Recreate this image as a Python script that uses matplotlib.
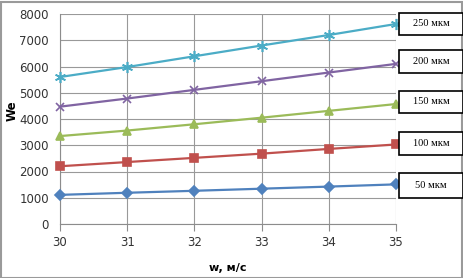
import matplotlib
matplotlib.use("Agg")
import matplotlib.pyplot as plt
from matplotlib.patches import Rectangle

w = [30, 31, 32, 33, 34, 35]
we_50 = [1110, 1190, 1265, 1345, 1425, 1510]
we_100 = [2200, 2360, 2520, 2680, 2860, 3030]
we_150 = [3350, 3560, 3800, 4050, 4310, 4570]
we_200 = [4470, 4780, 5110, 5440, 5770, 6100]
we_250 = [5600, 5980, 6390, 6800, 7200, 7620]
labels = ["50 мкм", "100 мкм", "150 мкм", "200 мкм", "250 мкм"]
yticks = [0, 1000, 2000, 3000, 4000, 5000, 6000, 7000, 8000]

W, H = 464, 278
fig = plt.figure(figsize=(W / 100, H / 100), dpi=100)
ax = fig.add_axes([60 / W, 1 - 224 / H, (396 - 60) / W, (224 - 14) / H])

series = [
    (we_50, "#4F81BD", "D", 5),
    (we_100, "#C0504D", "s", 6),
    (we_150, "#9BBB59", "^", 6),
    (we_200, "#8064A2", "x", 6),
    (we_250, "#4BACC6", (6, 2, 0), 8),
]
for vals, c, m, ms in series:
    ax.plot(w, vals, color=c, lw=1.6, marker=m, ms=ms, mec=c, mfc=c, mew=1.2,
            clip_on=False, zorder=3)

ax.set_xlim(30, 35)
ax.set_ylim(0, 8000)
ax.set_xticks(w)
ax.set_yticks(yticks)
ax.grid(True, color="#999999", lw=0.8)
ax.set_axisbelow(True)
for s in ["top", "right"]:
    ax.spines[s].set_visible(False)
for s in ["left", "bottom"]:
    ax.spines[s].set_color("#8C8C8C")
ax.tick_params(axis="x", length=5, color="#8C8C8C", labelsize=8.5, pad=4, labelcolor="#333333")
ax.tick_params(axis="y", length=0, labelsize=8.5, pad=8, labelcolor="#333333")
ax.set_ylabel("We", fontsize=8.5, fontweight="bold")
ax.yaxis.set_label_coords(-0.122, 0.54)
ax.set_xlabel("w, м/с", fontsize=8, fontweight="bold")
ax.xaxis.set_label_coords(0.5, -0.185)

boxes = [(173, 198), (132, 155), (91, 113), (50, 73), (13, 35)]
for (y0, y1), lab in zip(boxes, labels):
    fig.patches.append(Rectangle((399 / W, 1 - y1 / H), (463 - 399) / W, (y1 - y0) / H,
                                 transform=fig.transFigure, fill=True, fc="white",
                                 ec="black", lw=1.2, zorder=5))
    fig.text((399 + 463) / 2 / W, 1 - (y0 + y1) / 2 / H, lab, ha="center", va="center",
             fontsize=7.5, family="Liberation Serif", zorder=6)

fig.patches.append(Rectangle((0.5 / W, 0.5 / H), (W - 2) / W, (H - 2) / H,
                             transform=fig.transFigure, fill=False, ec="#9A9A9A", lw=1.5))
fig.savefig("out.png", dpi=100)
